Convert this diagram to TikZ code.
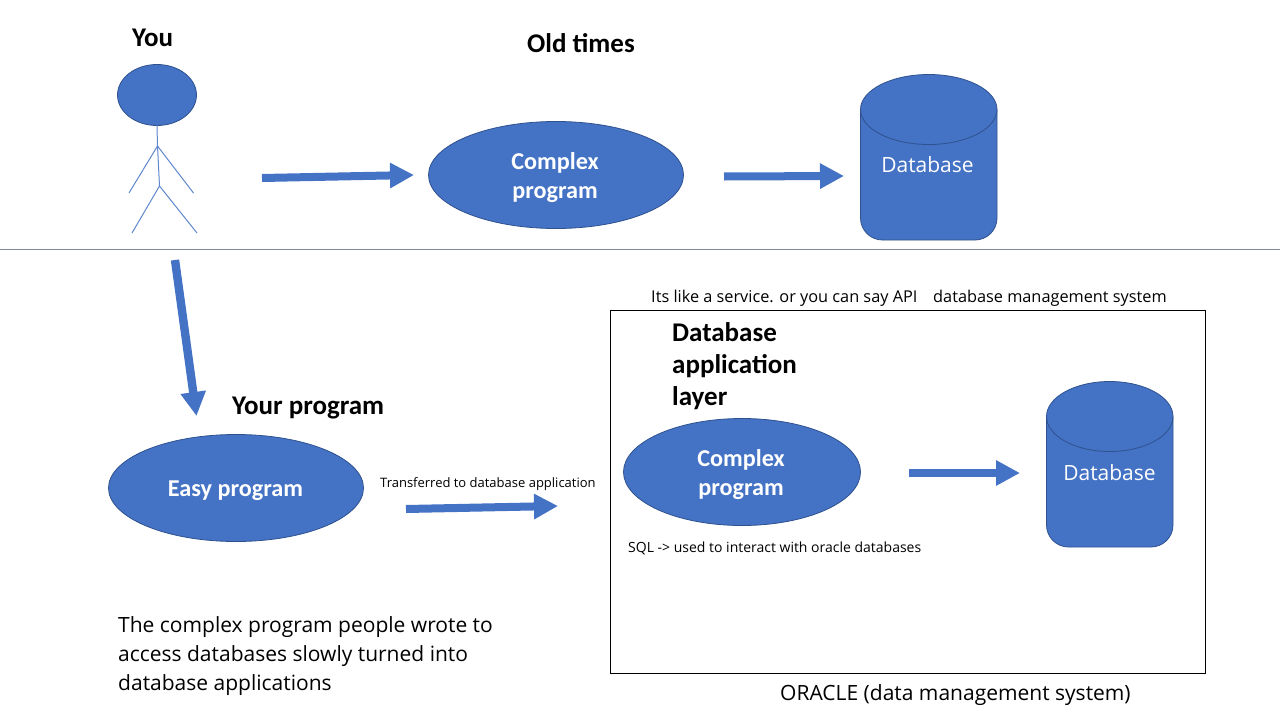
\documentclass[tikz,border=0pt]{standalone}
\usepackage{fontspec}
\setmainfont{Carlito}
\newfontfamily\seg{Open Sans}
\usetikzlibrary{arrows.meta,shapes.geometric}
\definecolor{bl}{HTML}{4472C4}
\definecolor{bd}{HTML}{2F528F}
\definecolor{rulec}{HTML}{7F8A9C}
\tikzset{
  x=1pt,y=-1pt,
  shapefill/.style={fill=bl,draw=bd,line width=0.8pt},
  ovalshape/.style={shapefill,ellipse,inner sep=0pt,outer sep=0pt},
  blockarrow/.style={draw=bl,line width=8pt,-{Triangle[length=24pt,width=24pt,fill=bl]}},
  stick/.style={draw=bl!85,line width=1pt},
  hd/.style={font=\bfseries\fontsize{27}{32}\selectfont,text=black,anchor=west,inner sep=0pt,align=left},
  oval/.style={font=\bfseries\fontsize{24.2}{29}\selectfont,text=white,align=center},
  cyl/.style={font=\seg\fontsize{21}{24}\selectfont,text=white,inner sep=0pt},
  small/.style={font=\seg\fontsize{13}{16}\selectfont,text=black,anchor=west,inner sep=0pt},
  note/.style={font=\seg\fontsize{14}{18}\selectfont,text=black,anchor=west,inner sep=0pt},
  mid/.style={font=\seg\fontsize{16.3}{20}\selectfont,text=black,anchor=west,inner sep=0pt},
  body/.style={font=\seg\fontsize{21}{29}\selectfont,text=black,anchor=north west,inner sep=0pt,align=left},
}
\newcommand{\dbcyl}[4]{%
  \path[shapefill] (#1,#3+35) arc[x radius={(#2-#1)/2*1pt},y radius=35pt,start angle=180,end angle=0]
    -- (#2,#4-22) arc[radius=22pt,start angle=0,end angle=-90]
    -- (#1+22,#4) arc[radius=22pt,start angle=-90,end angle=-180] -- cycle;
  \draw[bd,line width=0.8pt] (#1,#3+35) arc[x radius={(#2-#1)/2*1pt},y radius=35pt,start angle=180,end angle=360];
}
\begin{document}
\begin{tikzpicture}
\useasboundingbox (0,0) rectangle (1280,720);

% separator
\coordinate (ruleL) at (0,249.5);
\coordinate (ruleR) at (1280,249.5);
\draw[rulec,line width=0.9pt] (ruleL) -- (ruleR);

% stick figure
\node[ovalshape,minimum width=79pt,minimum height=61pt] (head) at (157,95) {};
\coordinate (neck) at (157,126);
\coordinate (shoulder) at (157.5,146);
\coordinate (hip) at (159.5,186);
\coordinate (handL) at (129,193);
\coordinate (handR) at (193.5,193);
\coordinate (footL) at (132,233);
\coordinate (footR) at (197,233);
\draw[stick] (head.south) -- (shoulder) -- (hip);
\draw[stick] (handL) -- (shoulder) -- (handR);
\draw[stick] (footL) -- (hip) -- (footR);

% top row
\node[ovalshape,minimum width=255pt,minimum height=107pt] (cp1) at (556,175) {};
\node[oval] (cp1t) at (555,177.5) {Complex\\program};
\dbcyl{860.5}{997}{74.5}{240}
\node[cyl] (db1) at (927.5,165) {Database};

% bottom row
\node[ovalshape,minimum width=255pt,minimum height=107pt] (ep) at (236,488) {};
\node[oval] (ept) at (235.5,490.5) {Easy program};
\draw[black,line width=1pt] (610.5,310.5) rectangle (1205.5,673.5);
\node[ovalshape,minimum width=237pt,minimum height=107pt] (cp2) at (742,472) {};
\node[oval] (cp2t) at (741,474.5) {Complex\\program};
\dbcyl{1046.5}{1173}{381.5}{547}
\node[cyl] (db2) at (1109.5,473) {Database};

% arrows
\coordinate (a1s) at (262,178);
\coordinate (a1e) at (414,175);
\coordinate (a2s) at (724,176.5);
\coordinate (a2e) at (844,176);
\coordinate (a3s) at (175,260);
\coordinate (a3e) at (196.5,416);
\coordinate (a4s) at (406,509);
\coordinate (a4e) at (558,506);
\coordinate (a5s) at (909,473);
\coordinate (a5e) at (1020,473);
\draw[blockarrow] (a1s) -- (a1e);
\draw[blockarrow] (a2s) -- (a2e);
\draw[blockarrow,line width=8.4pt] (a3s) -- (a3e);
\draw[blockarrow] (a4s) -- (a4e);
\draw[blockarrow] (a5s) -- (a5e);

% headings
\node[hd] (you) at (132,38) {You};
\node[hd] (old) at (527,43) {Old times};
\node[hd] (yp) at (232,408) {Your program};
\node[hd] (dal) at (672,366) {Database\\application\\layer};

% notes
\node[mid] (n1) at (651,298) {Its like a service. or you can say API};
\node[mid] (n2) at (933,298) {database management system};
\node[small] (n3) at (380,484) {Transferred to database application};
\node[note] (n4) at (628,548) {SQL -> used to interact with oracle databases};
\node[body] (n5) at (118,616.5) {The complex program people wrote to\\access databases slowly turned into\\database applications};
\node[font=\seg\fontsize{21}{24}\selectfont,anchor=west,inner sep=0pt] (n6) at (780,695) {ORACLE (data management system)};
\end{tikzpicture}
\end{document}
